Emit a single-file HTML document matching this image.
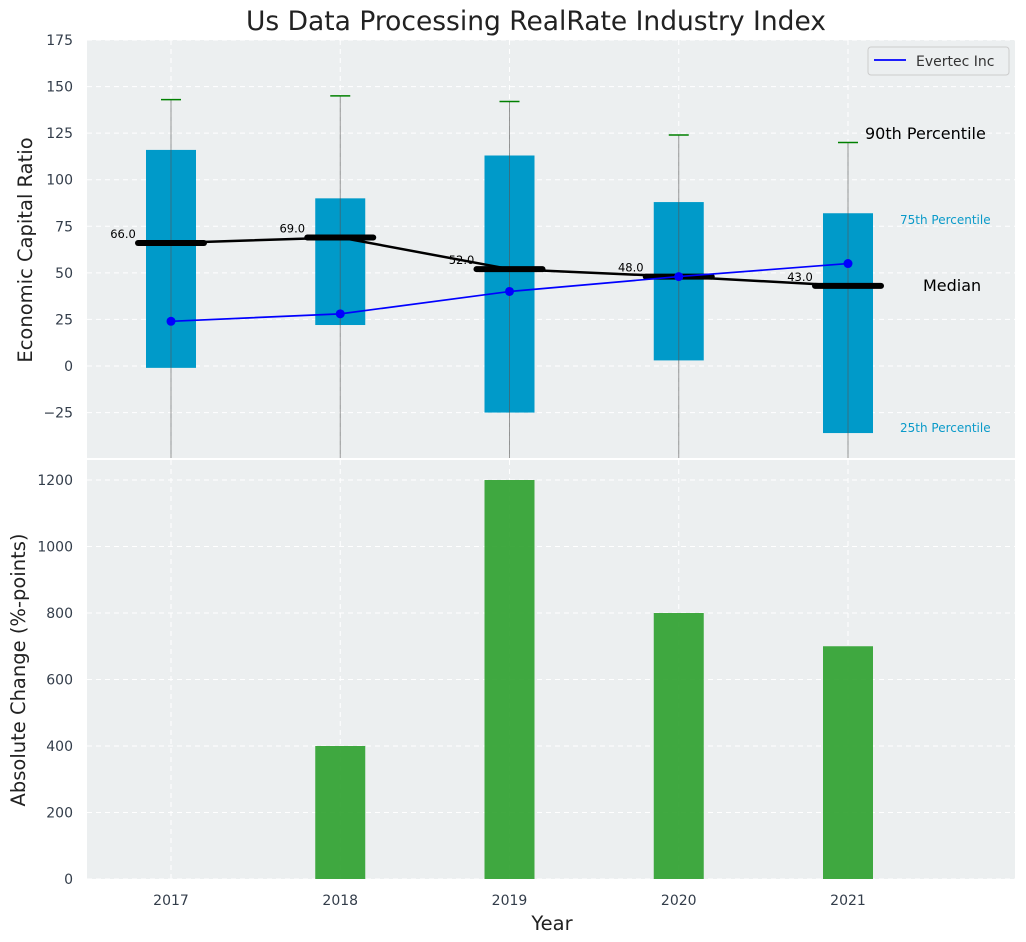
<!DOCTYPE html>
<html><head><meta charset="utf-8"><style>
body{margin:0;background:#fff;}
svg{display:block;font-family:"DejaVu Sans","Liberation Sans",sans-serif;}
</style></head><body>
<svg id="c" width="1026" height="942"></svg>
<script>
const years=[2017,2018,2019,2020,2021];
const q75=[116,90,113,88,82];
const q25=[-1,22,-25,3,-36];
const p90=[143,145,142,124,120];
const medians=[66,69,52,48,43];
const evertec=[24,28,40,48,55];
const changes=[0,400,1200,800,700];
const yTicksTop=[-25,0,25,50,75,100,125,150,175];
const yTicksBot=[0,200,400,600,800,1000,1200];

const svg=document.getElementById('c');
const NS='http://www.w3.org/2000/svg';
function el(t,a,p){const e=document.createElementNS(NS,t);for(const k in a)e.setAttribute(k,a[k]);(p||svg).appendChild(e);return e;}
const L=87,R=1015;
const x=v=>171+(v-2017)*169.25;
const T0=40,T1=458,B0=460,B1=879;
const yt=v=>366-(v)*(326/175);
const yb=v=>879-v*(399/1200);

let t=el('text',{x:536,y:30,'text-anchor':'middle','font-size':26.5,fill:'#222'});t.textContent='Us Data Processing RealRate Industry Index';


let bg=el('rect',{x:L,y:T0,width:R-L,height:T1-T0,fill:'#eceff0'});

let bg2=el('rect',{x:L,y:B0,width:R-L,height:B1-B0,fill:'#eceff0'});


years.forEach(yr=>{
 el('line',{x1:x(yr),x2:x(yr),y1:T0,y2:T1,stroke:'#fff','stroke-dasharray':'5,4','stroke-width':1});
 el('line',{x1:x(yr),x2:x(yr),y1:B0,y2:B1,stroke:'#fff','stroke-dasharray':'5,4','stroke-width':1});
});
yTicksTop.forEach(v=>{
 el('line',{x1:L,x2:R,y1:yt(v),y2:yt(v),stroke:'#fff','stroke-dasharray':'5,4'});
 let tx=el('text',{x:73,y:yt(v)+5,'text-anchor':'end','font-size':14,fill:'#333d4a'});tx.textContent=v<0?'−'+(-v):v;
 
});
yTicksBot.forEach(v=>{
 el('line',{x1:L,x2:R,y1:yb(v),y2:yb(v),stroke:'#fff','stroke-dasharray':'5,4'});
 let tx=el('text',{x:73,y:yb(v)+5,'text-anchor':'end','font-size':14,fill:'#333d4a'});tx.textContent=v;
 
});
years.forEach(yr=>{
 let tx=el('text',{x:x(yr),y:905,'text-anchor':'middle','font-size':14,fill:'#333d4a'});tx.textContent=yr;
 
});

const defs=el('defs',{});
const cp=el('clipPath',{id:'ct'},defs);el('rect',{x:L,y:T0,width:R-L,height:T1-T0},cp);
const g=el('g',{'clip-path':'url(#ct)'});

years.forEach((yr,i)=>{
 let b=el('rect',{x:x(yr)-25,y:yt(q75[i]),width:50,height:yt(q25[i])-yt(q75[i]),fill:'#009ac9'},g);
 
 let w=el('line',{x1:x(yr),x2:x(yr),y1:yt(p90[i]),y2:T1+10,stroke:'#555','stroke-opacity':0.6,'stroke-width':1},g);
 
 let c=el('line',{x1:x(yr)-10,x2:x(yr)+10,y1:yt(p90[i]),y2:yt(p90[i]),stroke:'green','stroke-width':1.5},g);
 
});
let mp=el('polyline',{points:years.map((yr,i)=>x(yr)+','+yt(medians[i])).join(' '),fill:'none',stroke:'#000','stroke-width':2.5},g);

years.forEach((yr,i)=>{
 let m=el('line',{x1:x(yr)-33,x2:x(yr)+33,y1:yt(medians[i]),y2:yt(medians[i]),stroke:'#000','stroke-width':6,'stroke-linecap':'round'},g);
 
 let tx=el('text',{x:x(yr)-48,y:yt(medians[i])-5,'text-anchor':'middle','font-size':11.5,fill:'#000'},g);tx.textContent=medians[i].toFixed(1);
 
});
let ep=el('polyline',{points:years.map((yr,i)=>x(yr)+','+yt(evertec[i])).join(' '),fill:'none',stroke:'#0000ff','stroke-width':1.7},g);

years.forEach((yr,i)=>{
 let p=el('circle',{cx:x(yr),cy:yt(evertec[i]),r:4.5,fill:'#0000ff'},g);
 
});
const ann=[['90th Percentile',865,139,16,'#000','start'],['75th Percentile',900,224,12,'#0a9ac9','start'],['Median',923,291,16,'#000','start'],['25th Percentile',900,432,12,'#0a9ac9','start']];
ann.forEach(a=>{let tx=el('text',{x:a[1],y:a[2],'font-size':a[3],fill:a[4]});tx.textContent=a[0];
 });
let lg=el('g',{});
el('rect',{x:868,y:47,width:141,height:28,rx:3,fill:'#eceff0',stroke:'#ccc'},lg);
el('line',{x1:874,x2:906,y1:60,y2:60,stroke:'#0000ff','stroke-width':1.7},lg);
let lt=el('text',{x:916,y:66,'font-size':14,fill:'#333'},lg);lt.textContent='Evertec Inc';

years.forEach((yr,i)=>{
 let b=el('rect',{x:x(yr)-25,y:yb(changes[i]),width:50,height:yb(0)-yb(changes[i]),fill:'#2ca02c','fill-opacity':0.9});
 
});

let a1=el('text',{x:32,y:250,'text-anchor':'middle','font-size':19.5,fill:'#222',transform:'rotate(-90 32 250)'});a1.textContent='Economic Capital Ratio';

let a2=el('text',{x:25,y:670,'text-anchor':'middle','font-size':19.5,fill:'#222',transform:'rotate(-90 25 670)'});a2.textContent='Absolute Change (%-points)';

let a3=el('text',{x:552,y:930,'text-anchor':'middle','font-size':19.5,fill:'#222'});a3.textContent='Year';

</script>
</body></html>
